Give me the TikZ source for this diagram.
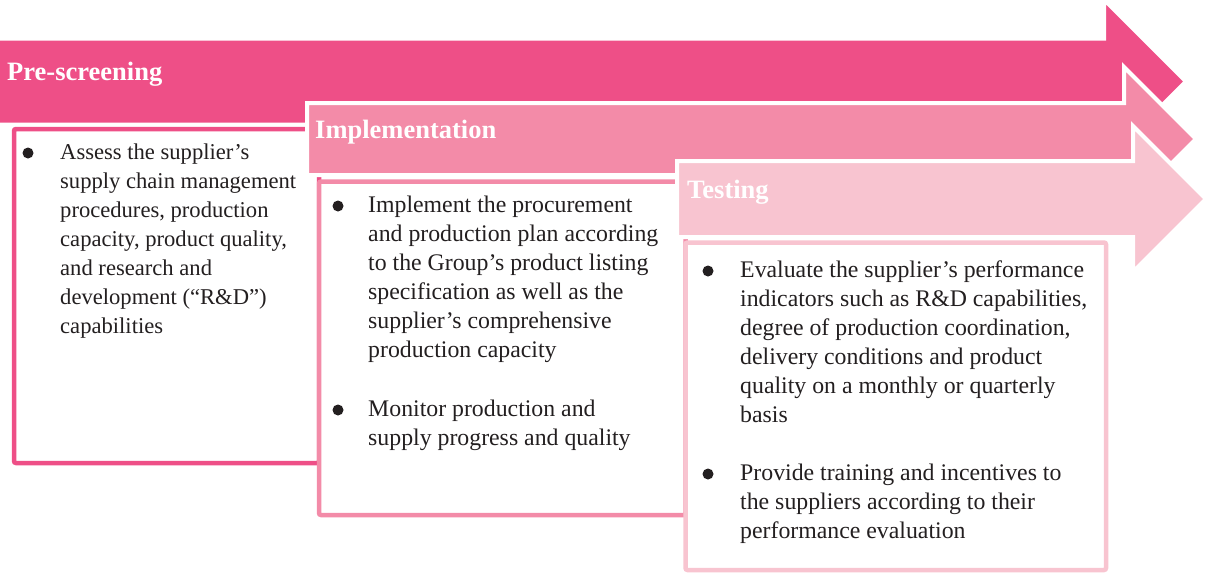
\documentclass[tikz,border=0pt]{standalone}
\usepackage{fontspec}
\setmainfont{Liberation Serif}
\definecolor{pinkA}{HTML}{EE4F87}
\definecolor{pinkB}{HTML}{F38BA8}
\definecolor{pinkC}{HTML}{F8C4D0}
\definecolor{ink}{HTML}{231F20}
% stage arrow: left x, centre y, body half-height, head base x, head half-height, colour
\newcommand\stagearrow[6]{%
  \draw[white, line width=4, fill=#6, line join=miter]
    (#1,#2-#3) -- (#4,#2-#3) -- (#4,#2-#5) -- ({#4+#5},#2)
    -- (#4,#2+#5) -- (#4,#2+#3) -- (#1,#2+#3) -- cycle;}
\tikzset{
  stagetitle/.style={anchor=base west, inner sep=0, text=white,
    font=\fontsize{26.5}{30}\selectfont\bfseries},
  bodyline/.style={anchor=base west, inner sep=0, text=ink,
    font=\fontsize{23.8}{29}\selectfont},
  narrowline/.style={bodyline, font=\fontsize{22.6}{29}\selectfont},
  bulletdot/.style={circle, fill=ink, inner sep=0, minimum size=11},
  stagebox/.style={line width=4.5, fill=white, rounded corners=2},
}
\begin{document}
\begin{tikzpicture}[x=1pt, y=-1pt]
\useasboundingbox (0,0) rectangle (1205,573);
\clip (0,0) rectangle (1205,573);

% ---- Pre-screening ----
\stagearrow{-5}{81.5}{43}{1104}{82}{pinkA}
\node[stagetitle] (t1) at (7,80) {Pre-screening};
\draw[stagebox, draw=pinkA] (14,129) rectangle (319,463);
\node[bulletdot] (d1) at (28,153) {};
\foreach \txt [count=\i from 0] in {%
  {Assess the supplier’s},
  {supply chain management},
  {procedures, production},
  {capacity, product quality,},
  {and research and},
  {development (“R\&D”)},
  {capabilities}}
  \node[narrowline] (a\i) at (60,{159+29*\i}) {\txt};

% ---- Implementation ----
\stagearrow{307}{139}{36}{1124}{72}{pinkB}
\node[stagetitle] (t2) at (315,138) {Implementation};
\draw[stagebox, draw=pinkB] (319,181.5) rectangle (685.5,515);
\node[bulletdot] (d2) at (338,206) {};
\foreach \txt [count=\i from 0] in {%
  {Implement the procurement},
  {and production plan according},
  {to the Group’s product listing},
  {specification as well as the},
  {supplier’s comprehensive},
  {production capacity}}
  \node[bodyline] (b\i) at (368,{212+29*\i}) {\txt};
\node[bulletdot] (d3) at (338,410) {};
\foreach \txt [count=\i from 0] in {%
  {Monitor production and},
  {supply progress and quality}}
  \node[bodyline] (c\i) at (368,{416+29*\i}) {\txt};

% ---- Testing ----
\stagearrow{677}{199}{38}{1133}{73}{pinkC}
\node[stagetitle] (t3) at (687,198) {Testing};
\draw[stagebox, draw=pinkC] (685.5,242.5) rectangle (1106,570);
\node[bulletdot] (d4) at (708,271) {};
\foreach \txt [count=\i from 0] in {%
  {Evaluate the supplier’s performance},
  {indicators such as R\&D capabilities,},
  {degree of production coordination,},
  {delivery conditions and product},
  {quality on a monthly or quarterly},
  {basis}}
  \node[bodyline] (e\i) at (740,{277+29*\i}) {\txt};
\node[bulletdot] (d5) at (708,474) {};
\foreach \txt [count=\i from 0] in {%
  {Provide training and incentives to},
  {the suppliers according to their},
  {performance evaluation}}
  \node[bodyline] (f\i) at (740,{480+29*\i}) {\txt};
\end{tikzpicture}
\end{document}
